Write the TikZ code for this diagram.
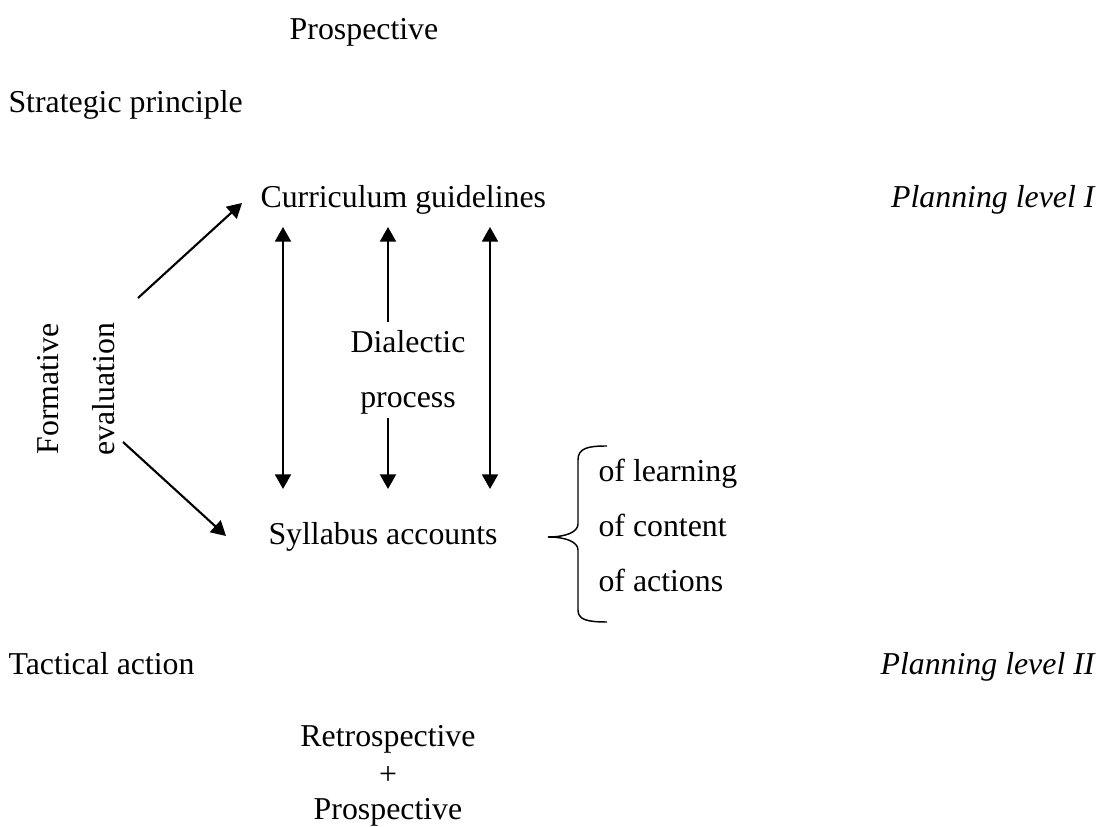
\documentclass[tikz,border=0pt]{standalone}
\usepackage{fontspec}
\setmainfont{Liberation Serif}
\usetikzlibrary{arrows.meta}
\begin{document}
\begin{tikzpicture}[x=0.377pt,y=-0.377pt,
  lbl/.style={inner sep=0pt,anchor=base,font=\fontsize{12pt}{14pt}\selectfont},
  lblw/.style={lbl,anchor=base west},
  lble/.style={lbl,anchor=base east},
  tip/.style={Triangle[length=5.5pt,width=6pt]},
  arr/.style={line width=0.8pt,-{Triangle[length=5.5pt,width=6pt]}},
  darr/.style={line width=0.8pt,{Triangle[length=5.5pt,width=6pt]}-{Triangle[length=5.5pt,width=6pt]}},
  brace/.style={line width=0.55pt}]
\useasboundingbox (0,0) rectangle (1105,827);

% headings and level labels
\node[lbl] (prosTop) at (364,40) {Prospective};
\node[lblw] (strat) at (8,113) {Strategic principle};
\node[lblw] (tact) at (8,675) {Tactical action};
\node[lble] (lvl1) at (1095,208) {\itshape Planning level I};
\node[lble] (lvl2) at (1095,675) {\itshape Planning level II};

% the two planning documents
\node[lblw] (curr) at (260,208) {Curriculum guidelines};
\node[lblw] (syll) at (268,545) {Syllabus accounts};

% rotated label on the left
\node[lbl,rotate=90] (form) at (58,389) {Formative};
\node[lbl,rotate=90] (eval) at (115,389) {evaluation};

% dialectic process in the middle
\node[lbl] (dial) at (408,353) {Dialectic};
\node[lbl] (proc) at (408,408) {process};

% kinds of syllabus accounts
\node[lblw] (learn) at (598,482) {of learning};
\node[lblw] (cont) at (598,537) {of content};
\node[lblw] (act) at (598,592) {of actions};

% bottom stack
\node[lbl] (retro) at (388,747) {Retrospective};
\node[lbl] (plus) at (388,785) {+};
\node[lbl] (prosBot) at (388,820) {Prospective};

% arrow end points
\coordinate (fe1) at (138,298);
\coordinate (fe2) at (242,203);
\coordinate (fe3) at (123,442);
\coordinate (fe4) at (226,536);
\coordinate (v1t) at (283,227);
\coordinate (v1b) at (283,489);
\coordinate (v3t) at (490,227);
\coordinate (v3b) at (490,489);
\coordinate (v2t) at (388,227);
\coordinate (v2m1) at (388,322);
\coordinate (v2m2) at (388,418);
\coordinate (v2b) at (388,489);

% formative evaluation arrows
\draw[arr] (fe1) -- (fe2);
\draw[arr] (fe3) -- (fe4);

% two-way arrows between the levels
\draw[darr] (v1t) -- (v1b);
\draw[darr] (v3t) -- (v3b);
\draw[arr] (v2m1) -- (v2t);
\draw[arr] (v2m2) -- (v2b);

% curly brace
\draw[brace] (607,446) .. controls (588,446) and (578,448) .. (578,460)
  -- (578,524) .. controls (578,532) and (566,537) .. (548,537);
\draw[brace] (548,537) .. controls (566,537) and (578,542) .. (578,550)
  -- (578,610) .. controls (578,620) and (588,622) .. (607,622);
\end{tikzpicture}
\end{document}
